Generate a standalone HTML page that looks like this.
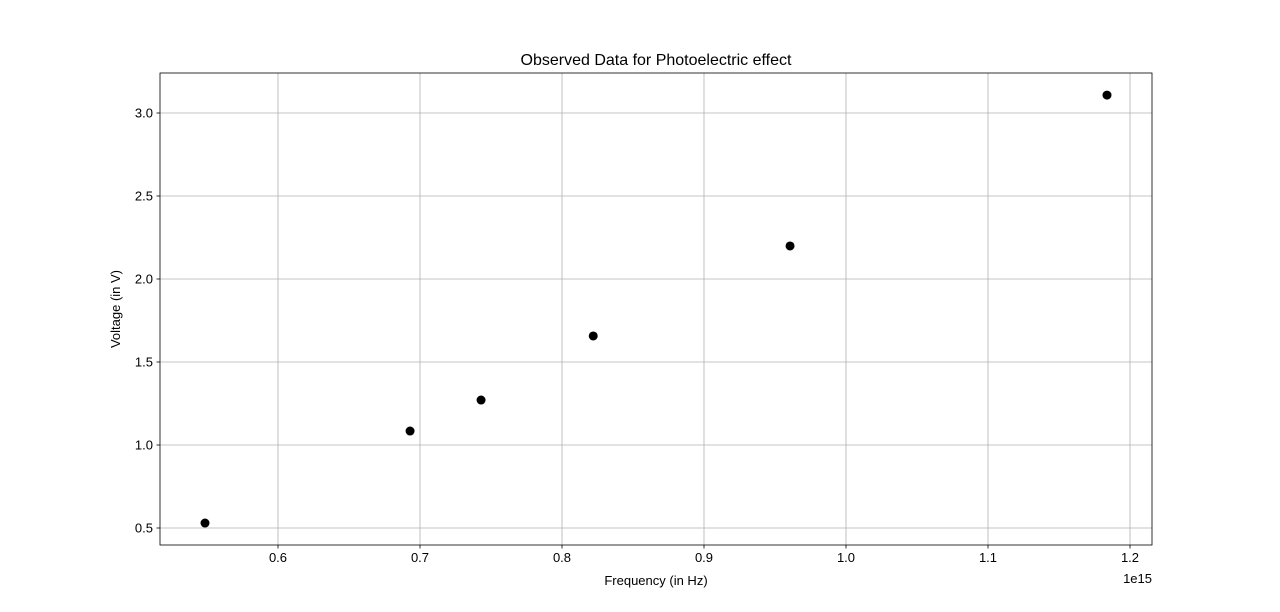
<!DOCTYPE html>
<html><head><meta charset="utf-8"><style>
body{margin:0;background:#fff;}
svg{display:block;font-family:"Liberation Sans","DejaVu Sans",sans-serif;}
</style></head><body>
<svg id="chart" width="1280" height="612"></svg>
<script>
const xValues = [0.5486, 0.693, 0.743, 0.822, 0.9606, 1.1838];
const yValues = [0.53, 1.084, 1.271, 1.657, 2.199, 3.108];
const xTicks = [0.6, 0.7, 0.8, 0.9, 1.0, 1.1, 1.2];
const xTickLabels = ["0.6","0.7","0.8","0.9","1.0","1.1","1.2"];
const yTicks = [0.5, 1.0, 1.5, 2.0, 2.5, 3.0];
const yTickLabels = ["0.5","1.0","1.5","2.0","2.5","3.0"];

const L=160,R=1152,T=73,B=545;
const xs=v=>278+(v-0.6)*1420;
const ys=v=>528-(v-0.5)*166;
const svg=document.getElementById('chart');
const NS='http://www.w3.org/2000/svg';
function mk(tag,attrs,text){const e=document.createElementNS(NS,tag);for(const k in attrs)e.setAttribute(k,attrs[k]);if(text!==undefined)e.textContent=text;svg.appendChild(e);return e;}

xTicks.forEach((t,i)=>{
  const x=xs(t);
  const g=mk('line',{x1:x,x2:x,y1:T,y2:B,stroke:'#b0b0b0','stroke-width':0.8});
  
  
  const tk=mk('line',{x1:x,x2:x,y1:B,y2:B+3.5,stroke:'#000','stroke-width':0.8});
  
  
  const lb=mk('text',{x:x,y:B+17,'text-anchor':'middle','font-size':13},xTickLabels[i]);
  
  
});
yTicks.forEach((t,i)=>{
  const y=ys(t);
  const g=mk('line',{x1:L,x2:R,y1:y,y2:y,stroke:'#b0b0b0','stroke-width':0.8});
  
  
  const tk=mk('line',{x1:L-3.5,x2:L,y1:y,y2:y,stroke:'#000','stroke-width':0.8});
  
  
  const lb=mk('text',{x:L-7,y:y+4.5,'text-anchor':'end','font-size':13},yTickLabels[i]);
  
  
});
const fr=mk('rect',{x:L,y:T,width:R-L,height:B-T,fill:'none',stroke:'#000','stroke-width':0.8});



xValues.forEach((v,i)=>{
  const c=mk('circle',{cx:xs(v),cy:ys(yValues[i]),r:4.5,fill:'#000'});
  
  
});

const t1=mk('text',{x:656,y:65,'text-anchor':'middle','font-size':16},'Observed Data for Photoelectric effect');


const t2=mk('text',{x:656,y:585,'text-anchor':'middle','font-size':13},'Frequency (in Hz)');


const t3=mk('text',{x:120,y:309,'text-anchor':'middle','font-size':13,transform:'rotate(-90 120 309)'},'Voltage (in V)');


const t4=mk('text',{x:1152,y:583,'text-anchor':'end','font-size':13},'1e15');


</script>
</body></html>
